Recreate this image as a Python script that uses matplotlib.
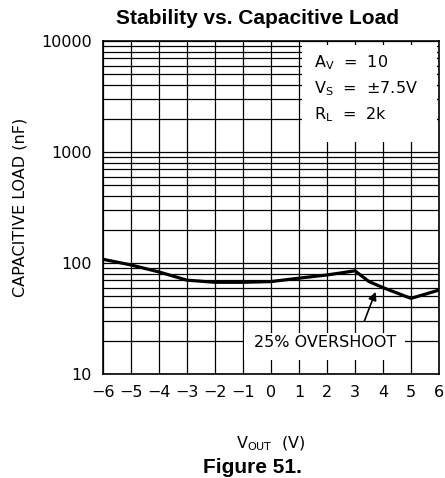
import matplotlib
matplotlib.use("Agg")
import matplotlib.pyplot as plt
from matplotlib.patches import Rectangle

# curve
vout = [-6, -5, -4, -3, -2, -1, 0, 1, 2, 3, 3.5, 4, 5, 6]
cload = [108, 96, 83, 70, 67, 67, 68, 73, 78, 85, 68, 60, 48, 57]

xticks = [-6, -5, -4, -3, -2, -1, 0, 1, 2, 3, 4, 5, 6]
yticks = [10, 100, 1000, 10000]
conditions = [r"A$_\mathregular{V}$  =  10",
              r"V$_\mathregular{S}$  =  ±7.5V",
              r"R$_\mathregular{L}$  =  2k"]
cond_y = [6400, 3750, 2150]

fig = plt.figure(figsize=(4.45, 4.78), dpi=100)
ax = fig.add_axes([0.2315, 0.2176, 0.755, 0.6966])
ax.set_yscale("log")
ax.set_xlim(-6, 6)
ax.set_ylim(10, 10000)

ax.grid(True, which="both", color="black", linewidth=0.9)
ax.set_xticks(xticks)
ax.set_xticklabels([str(t).replace("-", "\u2212") for t in xticks])
ax.set_yticks(yticks)
ax.set_yticklabels([str(t) for t in yticks])
ax.tick_params(which="both", length=0, labelsize=11.5, pad=8)
for s in ax.spines.values():
    s.set_linewidth(1.2)

ax.plot(vout, cload, color="black", linewidth=2.3, zorder=3)

# white boxes that break the grid
ax.add_patch(Rectangle((1.11, 1230), 5.93 - 1.11, 9200 - 1230,
                       facecolor="white", edgecolor="none", zorder=2))
ax.add_patch(Rectangle((-0.96, 13.4), 4.78 + 0.96, 23.4 - 13.4,
                       facecolor="white", edgecolor="none", zorder=2))

for t, y in zip(conditions, cond_y):
    ax.text(1.55, y, t, fontsize=11.5, va="center", ha="left", zorder=4)

ax.text(1.92, 19.2, "25% OVERSHOOT", fontsize=11.5, va="center",
        ha="center", zorder=4)
ax.annotate("", xy=(3.77, 58), xytext=(3.3, 28.5),
            arrowprops=dict(arrowstyle="-|>", color="black", lw=1.2,
                            mutation_scale=12), zorder=4)

ax.set_ylabel("CAPACITIVE LOAD (nF)", fontsize=11.5, labelpad=10)
ax.set_xlabel(r"V$_\mathregular{OUT}$  (V)", fontsize=11.5, labelpad=25)

fig.text(0.578, 0.961, "Stability vs. Capacitive Load", ha="center",
         va="center", fontsize=15, fontweight="bold", family="Liberation Sans")
fig.text(0.567, 0.021, "Figure 51.", ha="center", va="center",
         fontsize=15, fontweight="bold", family="Liberation Sans")

fig.savefig("out.png", dpi=100)
